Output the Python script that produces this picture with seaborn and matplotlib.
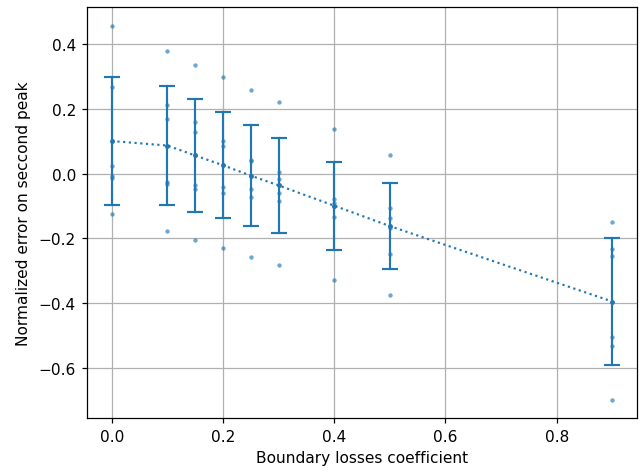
import numpy as np
import pandas as pd
import matplotlib
matplotlib.use("Agg")
import matplotlib.pyplot as plt
import seaborn as sns

# Boundary losses coefficients tested
coefficients = [0.0, 0.1, 0.15, 0.2, 0.25, 0.3, 0.4, 0.5, 0.9]

# Normalized error on the second peak, one list of runs per coefficient
err_c000 = [0.457, 0.268, 0.024, -0.008, -0.013, -0.124]
err_c010 = [0.378, 0.212, 0.168, -0.026, -0.033, -0.178]
err_c015 = [0.337, 0.158, 0.130, -0.034, -0.048, -0.206]
err_c020 = [0.299, 0.100, 0.086, -0.040, -0.059, -0.231]
err_c025 = [0.258, 0.043, 0.040, -0.047, -0.072, -0.258]
err_c030 = [0.220, 0.004, -0.016, -0.059, -0.086, -0.281]
err_c040 = [0.137, -0.079, -0.090, -0.099, -0.133, -0.330]
err_c050 = [0.059, -0.106, -0.137, -0.167, -0.247, -0.374]
err_c090 = [-0.148, -0.234, -0.253, -0.505, -0.532, -0.698]

runs = [err_c000, err_c010, err_c015, err_c020, err_c025,
        err_c030, err_c040, err_c050, err_c090]

df = pd.DataFrame(
    [(c, v) for c, vals in zip(coefficients, runs) for v in vals],
    columns=["coef", "error"],
)


def mean_pm_std(v):
    m = np.mean(v)
    s = np.std(v)
    return m - s, m + s


DPI = 111
fig, ax = plt.subplots(figsize=(642 / DPI, 471 / DPI), dpi=DPI)
fig.subplots_adjust(left=0.135, right=0.9927, top=0.983, bottom=0.1098)

blue = "#1f77b4"

sns.scatterplot(data=df, x="coef", y="error", color=blue, s=8,
                alpha=0.65, linewidth=0, ax=ax, zorder=2)

sns.lineplot(data=df, x="coef", y="error", estimator="mean",
             errorbar=mean_pm_std, err_style="bars",
             err_kws={"capsize": 5, "elinewidth": 1.4, "capthick": 1.4},
             color=blue, linestyle=":", linewidth=1.4,
             marker="o", markersize=3.2, markeredgewidth=0,
             ax=ax, zorder=3)

ax.grid(True)
ax.set_axisbelow(True)
ax.set_xlabel("Boundary losses coefficient")
ax.set_ylabel("Normalized error on seccond peak", labelpad=5)

fig.savefig("out.png", dpi=DPI)
